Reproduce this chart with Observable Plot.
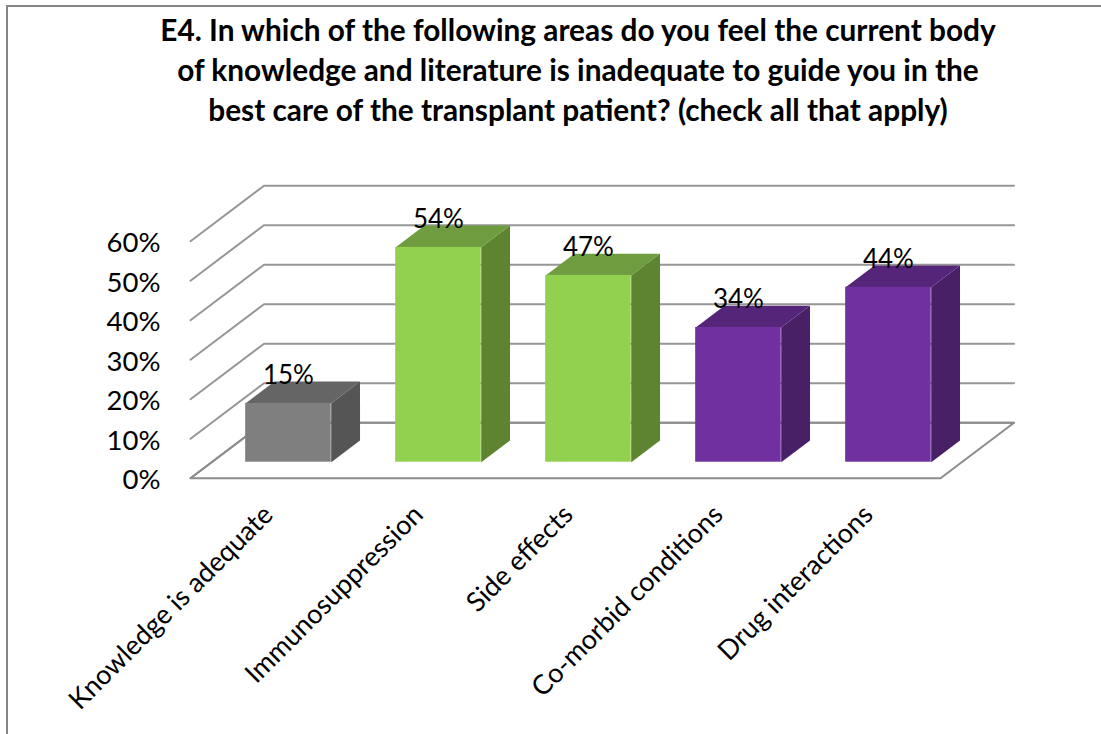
<!DOCTYPE html>
<html>
<head>
<meta charset="utf-8">
<script src="https://cdn.jsdelivr.net/npm/d3@7"></script>
<script src="https://cdn.jsdelivr.net/npm/@observablehq/plot@0.6"></script>
<style>
html,body{margin:0;padding:0;background:#fff;overflow:hidden}
#page{position:relative;width:1101px;height:734px;overflow:hidden}
#frame{position:absolute;left:6px;top:5px;right:0;bottom:-5px;border-left:2px solid #868686;border-top:2px solid #868686;pointer-events:none}
#title{position:absolute;left:0;top:10px;width:1156px;text-align:center;font:bold 29.8px/40px Lato,sans-serif;color:#000}
#chart{position:absolute;left:0;top:130px}
svg{overflow:visible;background:transparent}
</style>
</head>
<body>
<div id="page">
<div id="frame"></div>
<div id="title">E4. In which of the following areas do you feel the current body<br>of knowledge and literature is inadequate to guide you in the<br>best care of the transplant patient? (check all that apply)</div>
<div id="chart"></div>
</div>
<script>
const titleHeight = 130;
const categories = ["Knowledge is adequate","Immunosuppression","Side effects","Co-morbid conditions","Drug interactions"];
const values = [14.9, 54.4, 47.3, 34.1, 44.3];
const frontColors = ["#7f7f7f","#92d050","#92d050","#7030a0","#7030a0"];
const topColors   = ["#656565","#6f9c3e","#6f9c3e","#552579","#552579"];
const sideColors  = ["#555555","#5e8431","#5e8431","#472065","#472065"];
const ticks = [0,10,20,30,40,50,60];

// oblique projection: depth 0 = front edge of the floor, depth 1 = back wall
const depthX = 73.5/150, depthY = 55.5/3.95;
const P = (c, v, d) => ({x: c + d*depthX, y: v + d*depthY});
const d0 = 0.288, d1 = 0.68, b0 = 0.2267, b1 = 0.797;

function face(id, pts){ return pts.map(p => ({id, ...p})); }

const floor = face("floor",[P(0,0,0),P(5,0,0),P(5,0,1),P(0,0,1),P(0,0,0)]);
const walls = ticks.flatMap(t => face("t"+t,[P(0,t,0),P(0,t,1),P(5,t,1)]));

const fronts = categories.map((c,i)=>({c,i,v:values[i]}));
const tops = fronts.flatMap(b => face("top"+b.i,[P(b.i+b0,b.v,d0),P(b.i+b1,b.v,d0),P(b.i+b1,b.v,d1),P(b.i+b0,b.v,d1)]).map(p=>({...p,fill:topColors[b.i]})));
const sides = fronts.flatMap(b => face("side"+b.i,[P(b.i+b1,0,d0),P(b.i+b1,b.v,d0),P(b.i+b1,b.v,d1),P(b.i+b1,0,d1)]).map(p=>({...p,fill:sideColors[b.i]})));
const frontRects = fronts.map(b => {
  const a = P(b.i+b0,0,d0), e = P(b.i+b1,b.v,d0);
  return {x1:a.x,x2:e.x,y1:a.y,y2:e.y,fill:frontColors[b.i]};
});
const labels = fronts.map(b => {
  const a = P(b.i+(b0+b1)/2,b.v,d0);
  return {...a,text:d3.format(".0f")(b.v)+"%"};
});
const catLabels = categories.map((c,i)=>({x:i+0.5,y:0,text:c}));

const plot = Plot.plot({
  width:1101, height:734-titleHeight,
  marginLeft:0, marginRight:0, marginTop:0, marginBottom:0,
  x:{domain:[0,5],range:[190,940],axis:null},
  y:{domain:[0,60],range:[477.7-titleHeight,240.7-titleHeight]},
  style:{fontFamily:"Lato, sans-serif",background:"transparent",overflow:"visible"},
  marks:[
    Plot.line(walls,{x:"x",y:"y",z:"id",stroke:"#969696",strokeWidth:2,curve:"linear"}),
    Plot.line(floor,{x:"x",y:"y",z:"id",stroke:"#8c8c8c",strokeWidth:2,curve:"linear"}),
    Plot.axisY({values:ticks,anchor:"left",tickSize:0,label:null,tickFormat:d=>d+"%",fontSize:27.5,fill:"#000",x:0,dx:-30,dy:2,textAnchor:"end",tickPadding:0}),
    Plot.line(sides,{x:"x",y:"y",z:"id",fill:"fill",stroke:null,curve:"linear"}),
    Plot.line(tops,{x:"x",y:"y",z:"id",fill:"fill",stroke:null,curve:"linear"}),
    Plot.rect(frontRects,{x1:"x1",x2:"x2",y1:"y1",y2:"y2",fill:"fill"}),
    Plot.text(labels,{x:"x",y:"y",text:"text",dy:-28,fontSize:26,fill:"#000"}),
    Plot.text(catLabels,{x:"x",y:"y",text:"text",rotate:-45,textAnchor:"end",dx:3,dy:32,fontSize:27,fill:"#000"})
  ]
});
document.getElementById("chart").appendChild(plot);
</script>
</body>
</html>
